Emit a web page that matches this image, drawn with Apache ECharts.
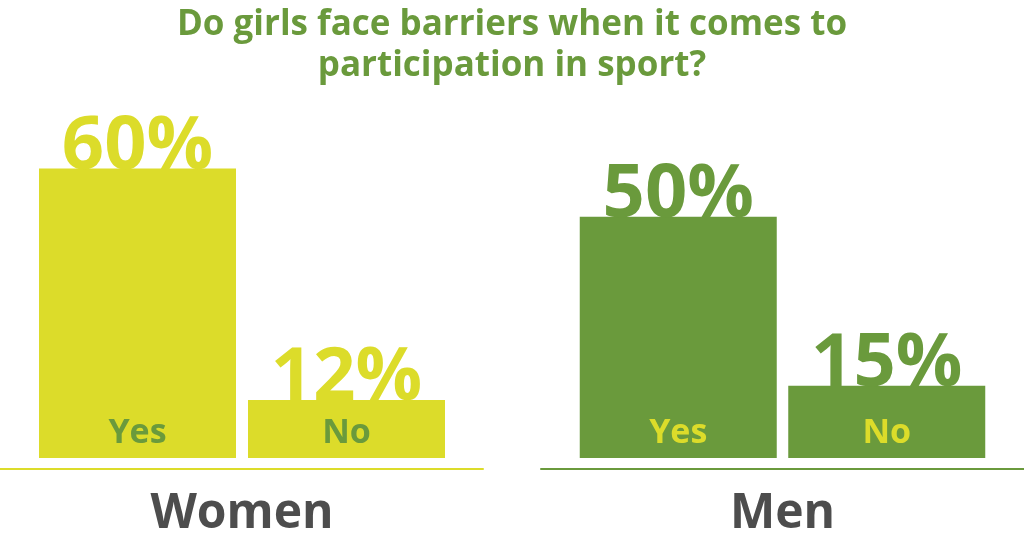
<!DOCTYPE html>
<html>
<head>
<meta charset="utf-8">
<script src="https://cdn.jsdelivr.net/npm/echarts@6/dist/echarts.min.js"></script>
<style>
html,body{margin:0;padding:0;background:#fff;}
#chart{width:1024px;height:544px;}
</style>
</head>
<body>
<div id="chart"></div>
<script>
const titleText = 'Do girls face barriers when it comes to\nparticipation in sport?';
const answers = ['Yes', 'No'];
const groups = ['Women', 'Men'];
const womenValues = [60, 12];
const menValues = [50, 15];

const YELLOW = '#dcdc2a';
const GREEN = '#6a9a3c';
const GRAY = '#4d4d4d';
const FONT = '"Open Sans", sans-serif';

const chart = echarts.init(document.getElementById('chart'));

function barAxis(gridIndex, name, labelColor) {
  return {
    type: 'category', gridIndex: gridIndex, data: answers,
    axisLine: { show: false }, axisTick: { show: false },
    axisLabel: { inside: true, margin: 8, color: labelColor, fontFamily: FONT, fontWeight: 'bold', fontSize: 34, lineHeight: 34 },
    name: name, nameLocation: 'middle', nameGap: 32,
    nameTextStyle: { color: GRAY, fontFamily: FONT, fontWeight: 'bold', fontSize: 48, lineHeight: 48 },
    z: 5
  };
}
function lineAxis(gridIndex, color) {
  return {
    type: 'category', gridIndex: gridIndex, data: [''],
    axisLine: { show: true, lineStyle: { color: color, width: 2 } },
    axisTick: { show: false }, axisLabel: { show: false }
  };
}
function valAxis(gridIndex) {
  return { type: 'value', gridIndex: gridIndex, min: 0, max: 80, show: false, splitLine: { show: false } };
}
function barSeries(idx, values, color) {
  return {
    type: 'bar', xAxisIndex: idx, yAxisIndex: idx, data: values, barWidth: 197,
    itemStyle: { color: color },
    label: {
      show: true, position: 'top', distance: -16, formatter: '{c}%',
      color: color, fontFamily: FONT, fontWeight: 'bold', fontSize: 74, lineHeight: 74
    },
    z: 2
  };
}

chart.setOption({
  animation: false,
  backgroundColor: '#ffffff',
  title: {
    text: titleText, left: 'center', top: 0,
    textStyle: { color: GREEN, fontFamily: FONT, fontWeight: 'bold', fontSize: 35, lineHeight: 41, align: 'center' }
  },
  grid: [
    { left: 33, width: 418, top: 72, bottom: 86 },
    { left: 574, width: 417, top: 72, bottom: 86 },
    { left: 0, width: 483, top: 0, bottom: 75 },
    { left: 541, right: 0, top: 0, bottom: 75 }
  ],
  xAxis: [
    barAxis(0, groups[0], GREEN),
    barAxis(1, groups[1], YELLOW),
    lineAxis(2, YELLOW),
    lineAxis(3, GREEN)
  ],
  yAxis: [valAxis(0), valAxis(1), valAxis(2), valAxis(3)],
  series: [
    barSeries(0, womenValues, YELLOW),
    barSeries(1, menValues, GREEN)
  ]
});
</script>
</body>
</html>
